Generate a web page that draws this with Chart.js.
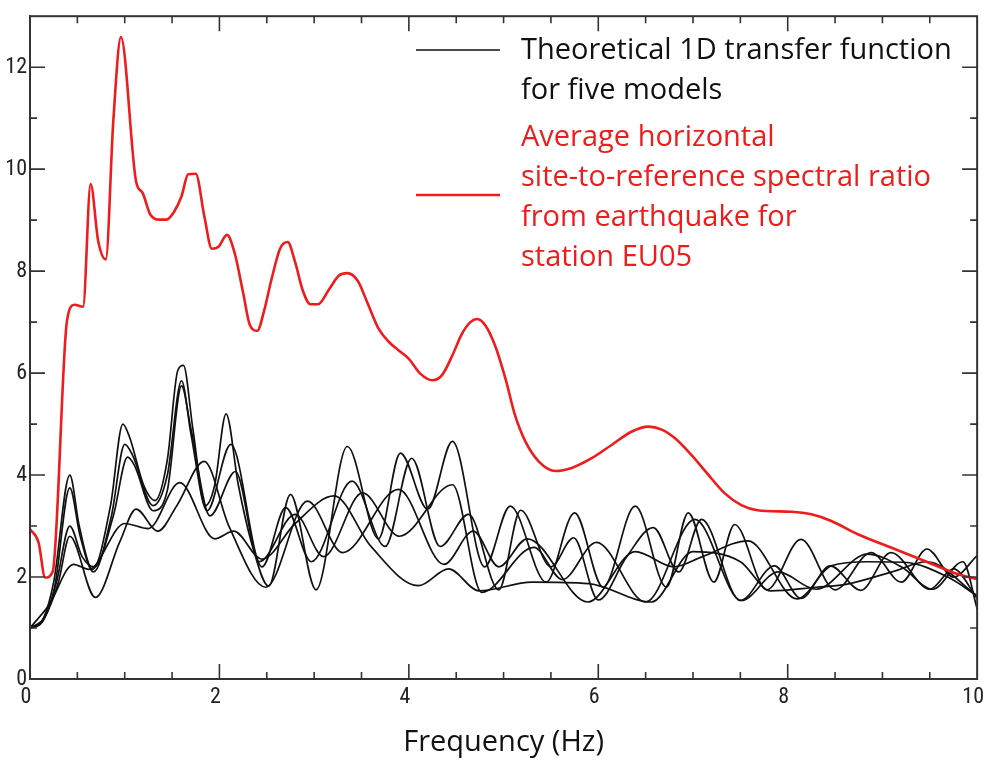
<!DOCTYPE html>
<html>
<head>
<meta charset="utf-8">
<script src="https://cdn.jsdelivr.net/npm/chart.js@4.4.0/dist/chart.umd.min.js"></script>
<style>
html, body { margin: 0; padding: 0; background: #fff; }
#wrap { width: 993px; height: 760px; position: relative; }
</style>
</head>
<body>
<div id="wrap"><canvas id="myChart"></canvas></div>
<script>
// spectral ratio from earthquake, station EU05 (frequency Hz / amplitude)
const ratioFreq = [0, 0.09, 0.16, 0.24, 0.39, 0.47, 0.56, 0.64, 0.72, 0.80, 0.88, 0.96, 1.12, 1.19, 1.27, 1.37, 1.44, 1.52, 1.60, 1.67,
  1.75, 1.84, 1.92, 1.99, 2.08, 2.16, 2.25, 2.32, 2.40, 2.47, 2.55, 2.64, 2.72, 2.80, 2.88, 2.96, 3.04, 3.16, 3.26, 3.35,
  3.46, 3.56, 3.68, 3.79, 3.89, 4.0, 4.12, 4.25, 4.35, 4.46, 4.56, 4.65, 4.72, 4.81, 4.91, 5.02, 5.12, 5.23, 5.37, 5.55,
  5.72, 5.93, 6.14, 6.35, 6.53, 6.67, 6.81, 6.98, 7.16, 7.33, 7.51, 7.68, 8.04, 8.25, 8.46, 8.74, 9.09, 9.44, 9.79, 10];
const ratioValue = [2.94, 2.68, 1.99, 2.11, 7.02, 7.34, 7.30, 9.71, 8.59, 8.23, 10.96, 12.59, 9.76, 9.53, 9.11, 9.01, 9.01, 9.16, 9.47, 9.90,
  9.91, 9.08, 8.44, 8.48, 8.71, 8.36, 7.58, 6.95, 6.83, 7.21, 7.84, 8.44, 8.57, 8.17, 7.62, 7.35, 7.35, 7.65, 7.91, 7.96,
  7.81, 7.39, 6.87, 6.61, 6.45, 6.28, 5.99, 5.86, 5.96, 6.35, 6.77, 7.0, 7.06, 6.93, 6.54, 5.89, 5.18, 4.66, 4.27, 4.08,
  4.14, 4.33, 4.59, 4.85, 4.95, 4.89, 4.72, 4.40, 4.01, 3.65, 3.41, 3.31, 3.28, 3.23, 3.10, 2.84, 2.58, 2.32, 2.06, 1.96];

// theoretical 1D transfer functions, [frequency, amplitude]
const model1 = [[0,1.0],[0.12,1.12],[0.25,1.9],[0.42,4.0],[0.52,3.0],[0.66,2.15],[0.85,3.4],[0.98,5.0],[1.05,4.75],[1.2,3.8],
  [1.32,3.5],[1.45,4.3],[1.56,6.05],[1.62,6.15],[1.72,4.9],[1.85,3.4],[1.95,3.8],[2.07,5.2],[2.2,3.8],[2.35,2.6],[2.52,1.82],
  [2.75,3.62],[3.02,1.75],[3.35,4.56],[3.68,2.75],[3.91,4.43],[4.2,3.33],[4.46,4.66],[4.8,2.2],[5.07,3.39],[5.45,1.9],[5.75,3.26],
  [6.05,1.8],[6.39,3.39],[6.72,1.8],[6.95,3.26],[7.22,1.9],[7.44,3.03],[7.78,1.75],[8.14,2.74],[8.5,1.75],[8.88,2.48],[9.2,1.9],
  [9.47,2.55],[9.75,2.0],[10,2.42]];
const model2 = [[0,1.0],[0.12,1.1],[0.26,1.8],[0.42,3.75],[0.53,2.8],[0.67,2.1],[0.86,3.2],[1.0,4.6],[1.08,4.4],[1.3,3.4],
  [1.45,4.0],[1.6,5.85],[1.7,4.8],[1.87,3.3],[2.12,4.6],[2.45,2.2],[2.7,3.36],[2.97,2.3],[3.4,3.88],[3.75,2.6],[4.03,4.33],
  [4.33,2.6],[4.63,3.23],[4.95,1.75],[5.18,3.31],[5.5,2.2],[5.74,2.77],[6.0,1.55],[6.3,2.4],[6.58,2.97],[6.85,2.1],[7.09,3.13],
  [7.5,1.54],[7.86,2.22],[8.14,1.58],[8.45,2.22],[8.77,1.74],[9.09,2.48],[9.5,1.76],[9.75,2.16],[10,1.58]];
const model3 = [[0,1.0],[0.14,1.15],[0.28,1.9],[0.42,3.0],[0.55,2.4],[0.68,2.2],[0.88,3.2],[1.03,4.35],[1.1,4.2],[1.3,3.3],
  [1.45,3.7],[1.6,5.75],[1.7,4.9],[1.9,3.2],[2.17,4.07],[2.42,2.3],[2.8,3.23],[3.1,2.4],[3.51,3.65],[3.9,2.8],[4.46,3.81],
  [4.77,1.7],[5.32,2.58],[5.62,1.95],[5.98,2.68],[6.5,1.51],[7.02,3.13],[7.51,1.54],[7.9,2.1],[8.3,1.76],[8.84,2.45],[9.2,2.2],
  [9.53,1.76],[9.85,2.3],[10,1.38]];
const model4 = [[0,1.0],[0.15,1.2],[0.3,1.9],[0.42,2.8],[0.69,1.6],[0.95,2.7],[1.12,3.33],[1.35,2.9],[1.55,3.4],[1.84,4.27],
  [2.1,3.0],[2.49,1.8],[2.93,3.49],[3.3,2.48],[3.89,3.72],[4.37,2.25],[4.68,2.9],[4.95,2.2],[5.25,2.75],[5.89,1.51],[6.39,2.5],
  [6.8,2.2],[7.1,2.4],[7.58,2.71],[8.1,1.57],[8.46,2.22],[8.85,2.3],[9.23,2.29],[9.7,1.99],[10,1.63]];
const model5 = [[0,1.0],[0.2,1.45],[0.46,2.25],[0.62,2.15],[1.0,3.05],[1.25,2.95],[1.58,3.85],[1.95,2.75],[2.15,2.9],[2.45,2.35],
  [2.8,3.05],[3.21,3.59],[3.6,2.6],[4.1,1.83],[4.42,2.16],[4.74,1.73],[5.3,1.9],[5.9,1.87],[6.56,1.51],[7.0,2.5],[7.5,2.3],
  [7.82,1.73],[8.3,1.8],[8.6,1.85],[9.1,2.1],[9.47,2.3],[10,1.63]];

// legend text
const modelLabel = ['Theoretical 1D transfer function', 'for five models'];
const ratioLabel = ['Average horizontal', 'site-to-reference spectral ratio', 'from earthquake for', 'station EU05'];

const RED = '#ee1c1c';
const BLACK = '#111';
const tickFont = { family: "'Liberation Sans Narrow', 'Roboto Condensed', 'Liberation Sans', sans-serif", size: 22 };
const textFont = "'Open Sans', 'Noto Sans', sans-serif";

// turn pairs into points
function toPoints(pairs) {
  return pairs.map(function (p) { return { x: p[0], y: p[1] }; });
}

const ratioPoints = ratioFreq.map(function (f, i) { return { x: f, y: ratioValue[i] }; });

const models = [model1, model2, model3, model4, model5];
const datasets = [{
  label: 'ratio',
  data: ratioPoints,
  borderColor: RED,
  borderWidth: 2.6,
  pointRadius: 0,
  cubicInterpolationMode: 'monotone',
  fill: false
}];
models.forEach(function (m, i) {
  datasets.push({
    label: 'model ' + (i + 1),
    data: toPoints(m),
    borderColor: BLACK,
    borderWidth: 1.7,
    pointRadius: 0,
    cubicInterpolationMode: 'monotone',
    fill: false
  });
});

// box frame with inward ticks on all four sides, plus the legend
const frameAndLegend = {
  id: 'frameAndLegend',
  afterDraw(chart) {
    const ctx = chart.ctx;
    const ca = chart.chartArea;
    const xs = chart.scales.x;
    const ys = chart.scales.y;
    ctx.save();
    ctx.strokeStyle = '#333';
    ctx.lineWidth = 2;
    ctx.strokeRect(ca.left, ca.top, ca.right - ca.left, ca.bottom - ca.top);

    ctx.lineWidth = 1.6;
    ctx.beginPath();
    for (let v = 0.5; v < 10; v += 0.5) {
      const px = xs.getPixelForValue(v);
      const len = (v % 2 === 0) ? 15 : 7;
      ctx.moveTo(px, ca.bottom); ctx.lineTo(px, ca.bottom - len);
      ctx.moveTo(px, ca.top); ctx.lineTo(px, ca.top + len);
    }
    for (let v = 1; v < 13; v++) {
      const py = ys.getPixelForValue(v);
      const len = (v % 2 === 0) ? 15 : 7;
      ctx.moveTo(ca.left, py); ctx.lineTo(ca.left + len, py);
      ctx.moveTo(ca.right, py); ctx.lineTo(ca.right - len, py);
    }
    ctx.stroke();

    // legend
    ctx.font = '29px ' + textFont;
    ctx.textAlign = 'left';
    ctx.textBaseline = 'alphabetic';
    ctx.lineWidth = 1.7;
    ctx.strokeStyle = BLACK;
    ctx.beginPath(); ctx.moveTo(416, 50); ctx.lineTo(500, 50); ctx.stroke();
    ctx.fillStyle = '#111';
    modelLabel.forEach(function (t, i) { ctx.fillText(t, 521, 59 + i * 40); });

    ctx.lineWidth = 2.6;
    ctx.strokeStyle = RED;
    ctx.beginPath(); ctx.moveTo(416, 195); ctx.lineTo(500, 195); ctx.stroke();
    ctx.fillStyle = RED;
    ratioLabel.forEach(function (t, i) { ctx.fillText(t, 521, 146 + i * 40); });
    ctx.restore();
  }
};

new Chart('myChart', {
  type: 'line',
  data: { datasets: datasets },
  options: {
    responsive: true,
    maintainAspectRatio: false,
    devicePixelRatio: 1,
    animation: false,
    layout: { padding: { top: 12, right: 13, left: 0, bottom: 0 } },
    plugins: { legend: { display: false }, tooltip: { enabled: false } },
    scales: {
      x: {
        type: 'linear',
        min: 0,
        max: 10,
        grid: { display: false, drawTicks: false },
        border: { display: true, color: '#333', width: 2 },
        ticks: { stepSize: 2, includeBounds: false, maxRotation: 0, padding: 5, labelOffset: -4, color: '#222', font: tickFont },
        title: { display: true, text: 'Frequency (Hz)', color: '#111', font: { family: textFont, size: 29 }, padding: { top: 0, bottom: 0 } },
        afterFit(scale) { scale.height = 81; }
      },
      y: {
        type: 'linear',
        min: 0,
        max: 13,
        grid: { display: false, drawTicks: false },
        border: { display: true, color: '#333', width: 2 },
        ticks: { stepSize: 2, includeBounds: false, padding: 3, color: '#222', font: tickFont },
        afterFit(scale) { scale.width = 30; }
      }
    }
  },
  plugins: [frameAndLegend]
});
</script>
</body>
</html>
